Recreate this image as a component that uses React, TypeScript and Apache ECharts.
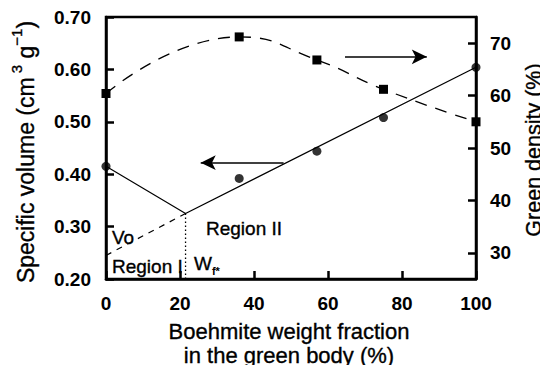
import React, { useEffect, useRef } from "react";
import * as echarts from "echarts";

// Boehmite weight fraction (%) at which samples were measured
const weightFraction = [0, 36, 57, 75, 100];
// Specific volume (cm3 g-1), left axis
const specificVolume = [0.415, 0.392, 0.444, 0.508, 0.604];
// Green density (%), right axis
const greenDensity = [60.4, 71.2, 66.8, 61.2, 55.0];

// Two-region model of specific volume
const criticalFraction = 21.5; // Wf*
const modelX = [0, criticalFraction, 100];
const modelY = [0.415, 0.325, 0.604];
const extrapX = [0, criticalFraction];
const extrapY = [0.245, 0.325];
const axisFloor = 0.2;

// Arrows pointing to the axis each curve belongs to
const leftArrow = { from: 48, to: 25.6, value: 0.422 };
const rightArrow = { from: 64.6, to: 86.7, value: 67.4 };

const densityTicks = [30, 40, 50, 60, 70];

const FONT = "'Liberation Sans', Arial, Helvetica, sans-serif";
// a faint outline gives the titles a medium weight
const heavy = { stroke: "#000", lineWidth: 0.35 };

export default function App() {
  const ref = useRef<HTMLDivElement>(null);

  useEffect(() => {
    if (!ref.current) return;
    const chart = echarts.init(ref.current, null, { renderer: "svg" });

    const axisLine = { show: true, lineStyle: { color: "#000", width: 2.5 } };
    const axisTick = { show: true, inside: true, length: 8, lineStyle: { color: "#000", width: 2.5 } };
    const tickLabel = { color: "#000", fontFamily: FONT, fontWeight: "bold" as const, fontSize: 19 };

    chart.setOption({
      animation: false,
      backgroundColor: "#fff",
      grid: {
        left: 106,
        right: 72,
        top: 17,
        bottom: 94,
        show: true,
        borderColor: "#000",
        borderWidth: 2.5,
        backgroundColor: "transparent",
      },
      xAxis: {
        type: "value",
        min: 0,
        max: 100,
        interval: 20,
        axisLine,
        axisTick,
        splitLine: { show: false },
        axisLabel: { ...tickLabel, margin: 15 },
      },
      yAxis: [
        {
          type: "value",
          min: 0.2,
          max: 0.7,
          interval: 0.1,
          axisLine,
          axisTick,
          splitLine: { show: false },
          axisLabel: { ...tickLabel, margin: 15, formatter: (v: number) => v.toFixed(2) },
        },
        {
          type: "value",
          min: 25,
          max: 75,
          position: "right",
          axisLine,
          axisTick: { ...axisTick, customValues: densityTicks },
          splitLine: { show: false },
          axisLabel: { ...tickLabel, margin: 14, customValues: densityTicks },
        },
      ],
      series: [
        {
          type: "line",
          yAxisIndex: 0,
          data: modelX.map((x, i) => [x, modelY[i]]),
          symbol: "none",
          lineStyle: { color: "#000", width: 1.2 },
          z: 3,
          markLine: {
            silent: true,
            symbol: ["none", "arrow"],
            symbolSize: [11, 15],
            label: { show: false },
            lineStyle: { color: "#000", width: 1.6, type: "solid" },
            data: [
              [
                { coord: [leftArrow.from, leftArrow.value] },
                { coord: [leftArrow.to, leftArrow.value] },
              ],
            ],
          },
        },
        {
          type: "line",
          yAxisIndex: 0,
          data: extrapX.map((x, i) => [x, extrapY[i]]),
          symbol: "none",
          lineStyle: { color: "#000", width: 1.2, type: [6, 6] },
        },
        {
          type: "line",
          yAxisIndex: 0,
          data: [
            [criticalFraction, modelY[1]],
            [criticalFraction, axisFloor],
          ],
          symbol: "none",
          lineStyle: { color: "#000", width: 1.3, type: [1.5, 2.5] },
        },
        {
          type: "scatter",
          yAxisIndex: 0,
          data: weightFraction.map((x, i) => [x, specificVolume[i]]),
          symbol: "circle",
          symbolSize: 9,
          itemStyle: { color: "#000" },
          z: 5,
        },
        {
          type: "line",
          yAxisIndex: 1,
          data: weightFraction.map((x, i) => [x, greenDensity[i]]),
          smooth: 0.5,
          symbol: "rect",
          symbolSize: 9,
          showSymbol: true,
          itemStyle: { color: "#000" },
          lineStyle: { color: "#000", width: 1.3, type: [12, 9] },
          z: 4,
          markLine: {
            silent: true,
            symbol: ["none", "arrow"],
            symbolSize: [11, 15],
            label: { show: false },
            lineStyle: { color: "#000", width: 1.6, type: "solid" },
            data: [
              [
                { coord: [rightArrow.from, rightArrow.value] },
                { coord: [rightArrow.to, rightArrow.value] },
              ],
            ],
          },
        },
      ],
      graphic: [
        {
          type: "text",
          x: 23,
          y: 152,
          rotation: Math.PI / 2,
          style: {
            text: "{a|Specific volume (cm}{s| 3}{a| g}{s|−1}{a|)}",
            align: "center",
            verticalAlign: "middle",
            fill: "#000",
            rich: {
              a: { fontFamily: FONT, fontSize: 23, fill: "#000", ...heavy, lineHeight: 28, verticalAlign: "bottom" },
              s: { fontFamily: FONT, fontSize: 15, fill: "#000", ...heavy, lineHeight: 28, verticalAlign: "top" },
            },
          },
        },
        {
          type: "text",
          x: 534,
          y: 150,
          rotation: Math.PI / 2,
          style: {
            text: "Green density (%)",
            align: "center",
            verticalAlign: "middle",
            fill: "#000",
            ...heavy,
            font: `21.5px ${FONT}`,
          },
        },
        {
          type: "text",
          x: 289,
          y: 331,
          style: {
            text: "Boehmite weight fraction",
            align: "center",
            verticalAlign: "middle",
            fill: "#000",
            ...heavy,
            font: `22px ${FONT}`,
          },
        },
        {
          type: "text",
          x: 289,
          y: 355,
          style: {
            text: "in the green body (%)",
            align: "center",
            verticalAlign: "middle",
            fill: "#000",
            ...heavy,
            font: `22px ${FONT}`,
          },
        },
        {
          type: "text",
          x: 244,
          y: 228,
          style: {
            text: "Region II",
            align: "center",
            verticalAlign: "middle",
            fill: "#000",
            ...heavy,
            font: `19px ${FONT}`,
          },
        },
        {
          type: "text",
          x: 112,
          y: 266,
          style: {
            text: "Region I",
            align: "left",
            verticalAlign: "middle",
            fill: "#000",
            ...heavy,
            font: `19px ${FONT}`,
          },
        },
        {
          type: "text",
          x: 112,
          y: 237,
          style: {
            text: "Vo",
            align: "left",
            verticalAlign: "middle",
            fill: "#000",
            ...heavy,
            font: `19px ${FONT}`,
          },
        },
        {
          type: "text",
          x: 194,
          y: 265,
          style: {
            text: "{w|W}{f|f*}",
            align: "left",
            verticalAlign: "middle",
            fill: "#000",
            rich: {
              w: { fontFamily: FONT, fontSize: 19, fill: "#000", ...heavy, lineHeight: 22, verticalAlign: "top" },
              f: { fontFamily: FONT, fontSize: 11, fontWeight: "bold", fill: "#000", lineHeight: 22, verticalAlign: "bottom" },
            },
          },
        },
      ],
    });

    return () => chart.dispose();
  }, []);

  return <div ref={ref} style={{ width: 548, height: 373, margin: -8 }} />;
}
